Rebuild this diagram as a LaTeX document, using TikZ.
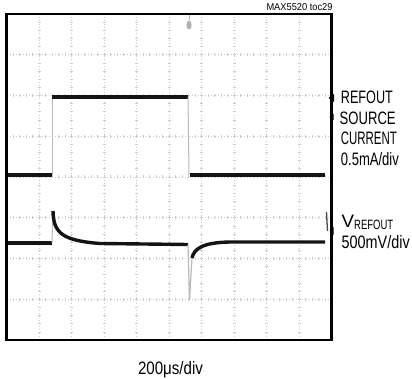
\documentclass[tikz,border=0pt]{standalone}
\usepackage{fontspec}
\usepackage{graphicx}
\setmainfont{Liberation Sans}
\newcommand\fitw[2]{\resizebox{#1}{\height}{#2}}
\begin{document}
\begin{tikzpicture}[x=1pt,y=-1pt,
  gridline/.style={gray!40,line width=0.8pt,dash pattern=on 1pt off 2.25pt},
  gridtick/.style={gray!40,line width=0.7pt},
  trace/.style={black!92,line width=3.6pt},
  tracetwo/.style={black!92,line width=3.4pt},
  edge/.style={gray!55,line width=1pt},
  lbl/.style={inner sep=0pt,anchor=base west,font=\fontsize{18}{18}\selectfont},
  marker/.style={fill=black,draw=none}]
\useasboundingbox (0,0) rectangle (412,379);
\fill[white] (0,0) rectangle (412,379);
% grid
\foreach \i in {1,...,9} {
  \draw[gridline] ({6.5+32.5*\i},14) -- ({6.5+32.5*\i},340);
  \foreach \k in {1,...,39}
    \draw[gridtick] ({6.5+32.5*\i-1.5},{14+8.15*\k}) -- ({6.5+32.5*\i+1.5},{14+8.15*\k});
}
\foreach \j in {1,...,7} {
  \draw[gridline] (6.5,{14+40.75*\j}) -- (331.5,{14+40.75*\j});
  \foreach \k in {1,...,49}
    \draw[gridtick] ({6.5+6.5*\k},{14+40.75*\j-1.5}) -- ({6.5+6.5*\k},{14+40.75*\j+1.5});
}
% trace 1: REFOUT source current
\draw[trace] (6.5,175) -- (52,175);
\draw[edge] (52,175) -- (52,97);
\draw[trace] (52,97) -- (188,97);
\draw[edge] (188,97) -- (189,175);
\draw[trace] (190,175) -- (325,175);
% trace 2: VREFOUT
\draw[tracetwo] (6.5,243) -- (52,243);
\draw[edge] (52,243) -- (53,211);
\draw[tracetwo] (53,211) .. controls (53.5,233) and (62,240.5) .. (100,243.5) -- (188,244.5);
\draw[edge,line width=1.2pt] (188,244.5) -- (189.5,300) -- (192,258);
\draw[tracetwo] (192,258) .. controls (194,249) and (202,242.5) .. (230,242) -- (325,242);
\draw[edge,line width=1.3pt,black!70] (326.5,212) -- (327.5,231);
% frame
\draw[black,line width=2.6pt] (6.5,14) rectangle (331.5,340);
% markers
\fill[gray!60] (189,25) ellipse (2.6 and 4.5);
\draw[gray!60,line width=1pt] (189,15) -- (189,20);
\fill[marker] (334,94) -- (328.5,98) -- (334,102) -- cycle;
\fill[marker] (333.5,114) -- (329.5,117) -- (333.5,120) -- cycle;
\fill[marker] (333.5,227) -- (329.5,231) -- (333.5,235) -- cycle;
% labels
\node[inner sep=0pt,anchor=base east,font=\fontsize{10}{10}\selectfont] (toc) at (332.7,10.5) {\fitw{66pt}{MAX5520 toc29}};
\node[lbl] (l1) at (340.7,104) {\fitw{52pt}{REFOUT}};
\node[lbl] (l2) at (339.5,124.5) {\fitw{56pt}{SOURCE}};
\node[lbl] (l3) at (340.7,145) {\fitw{56pt}{CURRENT}};
\node[lbl] (l4) at (340.7,165.5) {\fitw{58pt}{0.5mA/div}};
\node[lbl] (v1) at (341.5,227.5) {\fitw{12.5pt}{V}\raisebox{-2pt}{\fontsize{13.5}{13.5}\selectfont\fitw{39pt}{REFOUT}}};
\node[lbl] (v2) at (341.5,249) {\fitw{68pt}{500mV/div}};
\node[lbl,anchor=base] (tb) at (170.5,374) {\fitw{65pt}{200μs/div}};
\end{tikzpicture}
\end{document}
